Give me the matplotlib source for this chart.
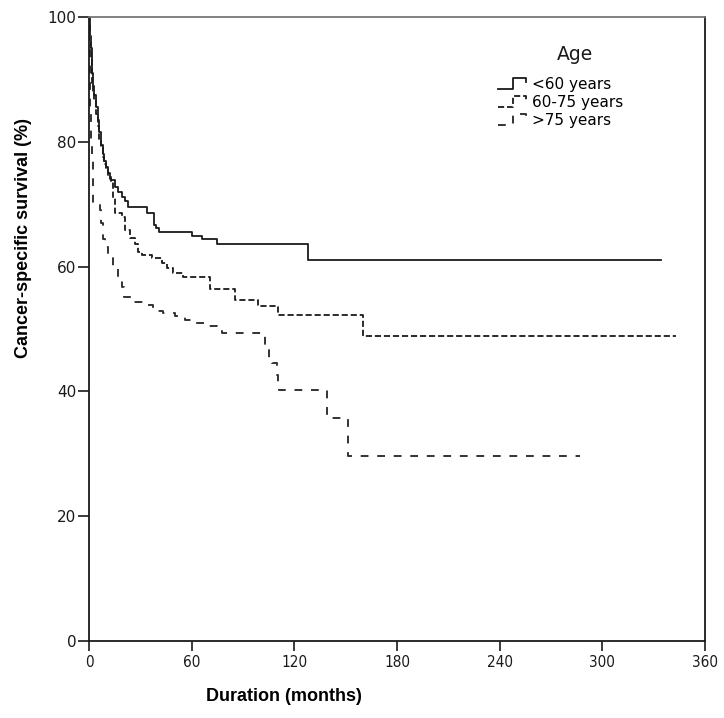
import matplotlib
matplotlib.use('Agg')
import matplotlib.pyplot as plt
from matplotlib.lines import Line2D
from matplotlib.legend_handler import HandlerLine2D

# ---- data ----
labels = ['<60 years', '60-75 years', '>75 years']
legend_title = 'Age'

t_lt60 = [0, 0.5, 1, 1.5, 2, 2.5, 3, 4, 5, 6, 7, 8, 9, 10, 11, 12, 13, 15, 17, 19, 21, 23,
          34, 38, 39, 41, 60, 66, 75, 128, 334]
s_lt60 = [100, 97, 95, 93, 91, 89, 87.5, 85.5, 83.5, 81.5, 79.5, 78, 77, 76, 75, 74.3, 73.8,
          72.8, 72, 71.2, 70.5, 69.6, 68.6, 66.7, 66.2, 65.5, 64.9, 64.4, 63.6, 61.1, 61.1]

t_60_75 = [0, 0.5, 1, 1.5, 2, 2.5, 3, 4, 5, 6, 7, 8, 9, 10, 11, 12, 13, 14, 15.2, 19, 21, 24,
           26.9, 28.8, 30.8, 36.6, 42.5, 45.4, 49.3, 55, 70.7, 85.3, 99, 110.6, 160, 343]
s_60_75 = [100, 96, 93.5, 91.5, 89.5, 88, 86.5, 84.5, 82.5, 80.5, 79, 77.5, 76.5, 75.5, 74.5,
           74, 73.5, 71, 68.6, 68, 65.9, 64.6, 63.7, 62.4, 61.9, 61.3, 60.5, 59.7, 58.9, 58.4,
           56.4, 54.6, 53.7, 52.3, 48.9, 48.9]

t_gt75 = [0, 0.3, 0.7, 1, 1.7, 2.5, 6.4, 7, 8.4, 9.4, 11.3, 14.2, 17, 19, 20.6, 25, 32.7, 37.6,
          43.4, 50.3, 56, 62, 68.8, 74.6, 78, 103, 105, 107, 109.7, 110.5, 111, 139, 151.6, 287]
s_gt75 = [100, 90, 84.8, 80, 77, 70.2, 69, 67, 64.5, 63.2, 61.4, 60, 58.4, 56.8, 55.2, 54.4,
          53.8, 52.9, 52.5, 52.1, 51.4, 50.9, 50.5, 50.1, 49.4, 47.2, 45.4, 44.5, 42.6, 41,
          40.2, 35.7, 29.7, 29.7]

x_ticks = [0, 60, 120, 180, 240, 300, 360]
y_ticks = [0, 20, 40, 60, 80, 100]


class StepHandler(HandlerLine2D):
    def create_artists(self, legend, orig_handle, xdescent, ydescent, width, height,
                       fontsize, trans):
        x0 = -xdescent
        y0 = -ydescent
        w, h = width, height
        xs = [x0, x0 + 0.45 * w, x0 + 0.52 * w, x0 + 0.9 * w, x0 + 0.97 * w]
        ys = [y0 + 0.05 * h, y0 + 0.05 * h, y0 + 0.95 * h, y0 + 0.95 * h, y0 + 0.6 * h]
        line = Line2D(xs, ys)
        line.update_from(orig_handle)
        line.set_transform(trans)
        return [line]


fig = plt.figure(figsize=(7.24, 7.18), dpi=100)
ax = fig.add_axes([89 / 724, 77 / 718, 616 / 724, 624 / 718])

l1, = ax.step(t_lt60, s_lt60, where='post', color='#1a1a1a', lw=1.3, ls='-')
l2, = ax.step(t_60_75, s_60_75, where='post', color='#1a1a1a', lw=1.3, ls=(0, (3.4, 1.6)))
l3, = ax.step(t_gt75, s_gt75, where='post', color='#333333', lw=1.4, ls=(0, (4, 4.5)))

ax.set_xlim(0, 360)
ax.set_ylim(0, 100)
ax.set_xticks(x_ticks)
ax.set_yticks(y_ticks)

for side in ['left', 'bottom', 'right']:
    ax.spines[side].set_linewidth(1.3)
    ax.spines[side].set_color('#1a1a1a')
ax.spines['top'].set_linewidth(1.3)
ax.spines['top'].set_color('#777777')

ax.tick_params(axis='y', direction='out', length=8, width=1.2, labelsize=11, pad=1,
               colors='#1a1a1a')
ax.tick_params(axis='x', direction='out', length=7, width=1.2, labelsize=11, pad=3,
               colors='#1a1a1a')
for lab in ax.get_xticklabels():
    lab.set_fontfamily(['DejaVu Sans'])
    lab.set_fontstretch('condensed')
    lab.set_fontsize(11)

lab_font = dict(fontsize=13, fontweight='bold', family=['Liberation Sans', 'DejaVu Sans'])
ax.set_xlabel('Duration (months)', **lab_font)
ax.set_ylabel('Cancer-specific survival (%)', **lab_font)
ax.xaxis.set_label_coords(0.317, -0.0897)
ax.yaxis.set_label_coords(-0.106, 0.646)
ax.xaxis.label.set_va('center')
ax.yaxis.label.set_va('center')

leg = ax.legend([l1, l2, l3], labels, loc='upper left',
                bbox_to_anchor=(0.6412, 0.926), frameon=False, fontsize=11,
                handlelength=1.9, handleheight=0.8,
                handletextpad=0.35, labelspacing=0.2,
                handler_map={Line2D: StepHandler()})
ax.text((575 - 89) / 616, (641 - 55) / 624, legend_title, transform=ax.transAxes,
        ha='center', va='center', fontsize=13.5, color='#1a1a1a')

fig.savefig('out.png', dpi=100, facecolor='white')
